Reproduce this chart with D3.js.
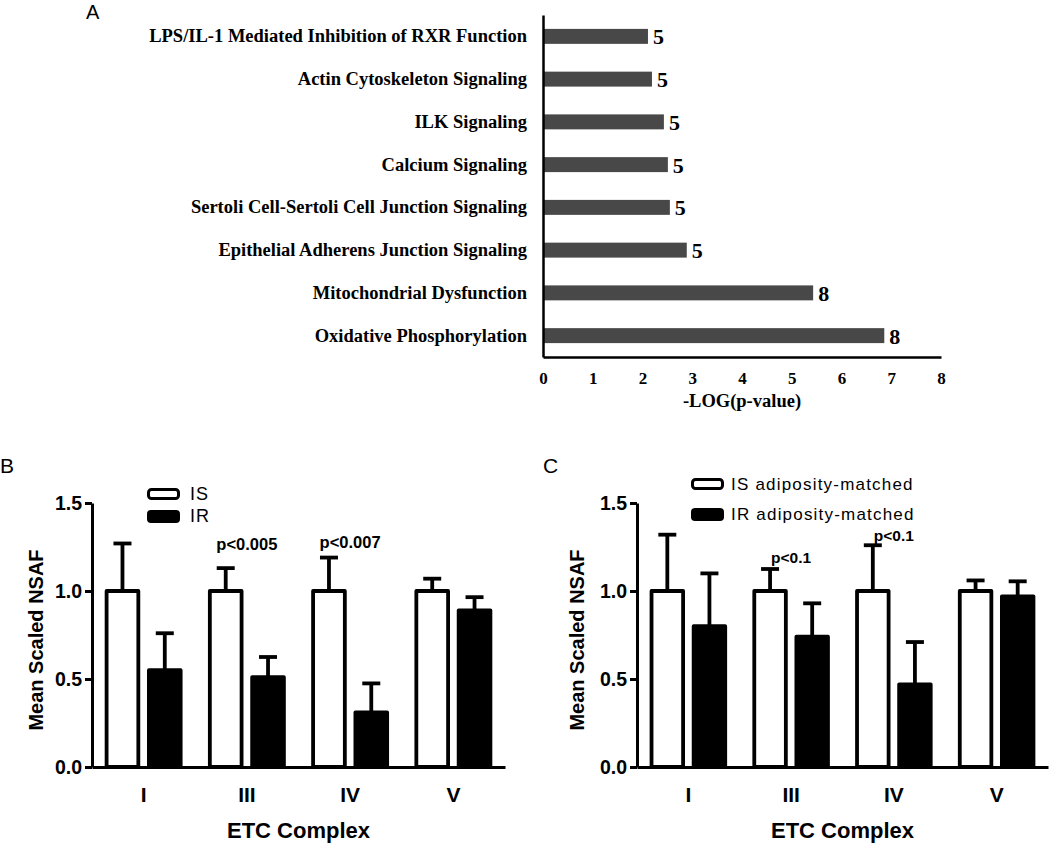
<!DOCTYPE html>
<html>
<head>
<meta charset="utf-8">
<script src="https://cdn.jsdelivr.net/npm/d3@7"></script>
<style>
  html, body { margin: 0; padding: 0; background: #fff; }
  svg { display: block; }
</style>
</head>
<body>
<svg id="chart" width="1050" height="843"></svg>
<script>
// ---------- Panel A data ----------
const pathways = [
  "LPS/IL-1 Mediated Inhibition of RXR Function",
  "Actin Cytoskeleton Signaling",
  "ILK Signaling",
  "Calcium Signaling",
  "Sertoli Cell-Sertoli Cell Junction Signaling",
  "Epithelial Adherens Junction Signaling",
  "Mitochondrial Dysfunction",
  "Oxidative Phosphorylation"
];
const negLogP = [2.11, 2.19, 2.43, 2.51, 2.55, 2.89, 5.43, 6.86];
const moleculeCounts = [5, 5, 5, 5, 5, 5, 8, 8];
const xTicksA = [0, 1, 2, 3, 4, 5, 6, 7, 8];

// ---------- Panels B & C data ----------
const complexes = ["I", "III", "IV", "V"];
const yTicksBC = [0, 0.5, 1.0, 1.5];

const groupsB = ["IS", "IR"];
const meanIS_B = [1.0, 1.0, 1.0, 1.0];
const upperIS_B = [1.27, 1.13, 1.19, 1.07];
const meanIR_B = [0.55, 0.51, 0.31, 0.89];
const upperIR_B = [0.76, 0.625, 0.475, 0.965];
const pCatsB = ["III", "IV"];
const pTextB = ["p<0.005", "p<0.007"];
const pAtB = [1.233, 1.244];

const groupsC = ["IS adiposity-matched", "IR adiposity-matched"];
const meanIS_C = [1.0, 1.0, 1.0, 1.0];
const upperIS_C = [1.32, 1.125, 1.26, 1.06];
const meanIR_C = [0.80, 0.74, 0.47, 0.97];
const upperIR_C = [1.10, 0.93, 0.71, 1.055];
const pCatsC = ["III", "IV"];
const pTextC = ["p<0.1", "p<0.1"];
const pAtC = [1.159, 1.285];

const svg = d3.select("#chart");
const SERIF = "'Liberation Serif', 'Times New Roman', serif";
const SANS = "'Liberation Sans', Arial, sans-serif";

// ================= Panel A =================
(function () {
  const g = svg.append("g");
  const x = d3.scaleLinear().domain([0, 8]).range([543, 941]);
  const y = d3.scaleBand().domain(pathways).range([15, 357])
    .paddingInner(0.65).paddingOuter(0.325);

  g.append("text").attr("x", 86).attr("y", 19)
    .style("font-family", SANS).style("font-size", "20px").text("A");

  // bars
  g.selectAll("rect.barA").data(pathways).join("rect")
    .attr("class", "barA")
    .attr("x", x(0))
    .attr("y", d => y(d))
    .attr("width", (d, i) => x(negLogP[i]) - x(0))
    .attr("height", y.bandwidth())
    .attr("fill", "#484848");

  // value labels
  g.selectAll("text.valA").data(pathways).join("text")
    .attr("class", "valA")
    .attr("x", (d, i) => x(negLogP[i]) + 5)
    .attr("y", d => y(d) + y.bandwidth() / 2)
    .attr("dy", "0.36em")
    .style("font-family", SERIF).style("font-weight", "bold").style("font-size", "22px")
    .text((d, i) => moleculeCounts[i]);

  // y axis
  const ya = g.append("g").attr("transform", `translate(${x(0)},0)`)
    .call(d3.axisLeft(y).tickSize(0).tickPadding(16));
  ya.select(".domain").attr("stroke", "#000").attr("stroke-width", 2.5);
  ya.selectAll("text").style("font-family", SERIF).style("font-weight", "bold")
    .style("font-size", "18.5px").attr("fill", "#000");

  // x axis
  const xa = g.append("g").attr("transform", "translate(0,357)")
    .call(d3.axisBottom(x).tickValues(xTicksA).tickSize(0).tickPadding(15).tickSizeOuter(0));
  xa.select(".domain").attr("stroke", "#000").attr("stroke-width", 2.5);
  xa.selectAll("text").style("font-family", SERIF).style("font-weight", "bold")
    .style("font-size", "17px").attr("fill", "#000");

  g.append("text").attr("x", (x.range()[0] + x.range()[1]) / 2).attr("y", 407)
    .attr("text-anchor", "middle")
    .style("font-family", SERIF).style("font-weight", "bold").style("font-size", "18.5px")
    .text("-LOG(p-value)");
})();

// ================= Panels B & C =================
function barPanel(opts) {
  const g = svg.append("g");
  const y = d3.scaleLinear().domain([0, 1.5]).range([767, 503]);
  const x0 = d3.scaleBand().domain(complexes).range([opts.axisX, opts.endX]);
  const x1 = d3.scaleBand().domain(opts.groups).range([0, x0.bandwidth()])
    .paddingInner(0.16).paddingOuter(0.3);
  const sw = 3.8;

  g.append("text").attr("x", opts.letterX).attr("y", 473)
    .style("font-family", SANS).style("font-size", "21px").text(opts.letter);

  const rows = complexes.map((c, i) => [
    { c, grp: opts.groups[0], mean: opts.meanIS[i], upper: opts.upperIS[i], fill: "#fff" },
    { c, grp: opts.groups[1], mean: opts.meanIR[i], upper: opts.upperIR[i], fill: "#000" }
  ]).flat();

  // error bars (upper only)
  const eb = g.selectAll("g.err").data(rows).join("g").attr("class", "err");
  eb.append("line")
    .attr("x1", d => x0(d.c) + x1(d.grp) + x1.bandwidth() / 2)
    .attr("x2", d => x0(d.c) + x1(d.grp) + x1.bandwidth() / 2)
    .attr("y1", d => y(d.mean)).attr("y2", d => y(d.upper))
    .attr("stroke", "#000").attr("stroke-width", sw);
  eb.append("line")
    .attr("x1", d => x0(d.c) + x1(d.grp) + x1.bandwidth() / 2 - 9)
    .attr("x2", d => x0(d.c) + x1(d.grp) + x1.bandwidth() / 2 + 9)
    .attr("y1", d => y(d.upper)).attr("y2", d => y(d.upper))
    .attr("stroke", "#000").attr("stroke-width", sw);

  // bars
  g.selectAll("rect.bar").data(rows).join("rect").attr("class", "bar")
    .attr("x", d => x0(d.c) + x1(d.grp) + sw / 2)
    .attr("y", d => y(d.mean))
    .attr("width", x1.bandwidth() - sw)
    .attr("height", d => y(0) - y(d.mean))
    .attr("fill", d => d.fill)
    .attr("stroke", "#000").attr("stroke-width", sw)
    .attr("stroke-linejoin", "round");

  // y axis
  const ya = g.append("g").attr("transform", `translate(${opts.axisX},0)`)
    .call(d3.axisLeft(y).tickValues(yTicksBC).tickFormat(d3.format(".1f"))
      .tickSize(7).tickPadding(3).tickSizeOuter(0));
  ya.select(".domain").attr("stroke", "#000").attr("stroke-width", 3);
  ya.selectAll(".tick line").attr("stroke", "#000").attr("stroke-width", 3);
  ya.selectAll("text").style("font-family", SANS).style("font-weight", "bold")
    .style("font-size", "19.5px").attr("fill", "#000");

  // x axis (baseline + category labels)
  const xa = g.append("g").attr("transform", "translate(0,767)")
    .call(d3.axisBottom(x0).tickSize(0).tickPadding(20).tickSizeOuter(0));
  xa.select(".domain").attr("stroke", "#000").attr("stroke-width", 3);
  xa.selectAll("text").style("font-family", SANS).style("font-weight", "bold")
    .style("font-size", "21px").attr("fill", "#000");

  // axis titles
  g.append("text")
    .attr("transform", `translate(${opts.yTitleX},${(y(0) + y(1.5)) / 2 + 5}) rotate(-90)`)
    .attr("text-anchor", "middle")
    .style("font-family", SANS).style("font-weight", "bold").style("font-size", "20px")
    .text("Mean Scaled NSAF");
  g.append("text")
    .attr("x", (opts.axisX + opts.endX) / 2).attr("y", 838)
    .attr("text-anchor", "middle")
    .style("font-family", SANS).style("font-weight", "bold").style("font-size", "22px")
    .text("ETC Complex");

  // p-value annotations
  g.selectAll("text.pval").data(opts.pCats).join("text").attr("class", "pval")
    .attr("x", d => x0(d) + x0.bandwidth() / 2)
    .attr("y", (d, i) => y(opts.pAt[i]))
    .attr("text-anchor", "middle")
    .style("font-family", SANS).style("font-weight", "bold").style("font-size", opts.pSize)
    .text((d, i) => opts.pText[i]);

  // legend
  const lg = g.append("g");
  opts.groups.forEach((name, i) => {
    const ly = opts.legendY[i];
    if (i === 0) {
      lg.append("rect").attr("x", opts.legendX + 1.5).attr("y", ly + 1.5)
        .attr("width", 30).attr("height", 9).attr("rx", 3)
        .attr("fill", "#fff").attr("stroke", "#000").attr("stroke-width", 3);
    } else {
      lg.append("rect").attr("x", opts.legendX).attr("y", ly)
        .attr("width", 33).attr("height", 13).attr("rx", 4).attr("fill", "#000");
    }
    lg.append("text").attr("x", opts.legendX + opts.legendTextDx).attr("y", ly + 6)
      .attr("dy", "0.33em")
      .style("font-family", SANS).style("font-size", opts.legendSize)
      .style("letter-spacing", opts.letterSpacing)
      .text(name);
  });
}

barPanel({
  letter: "B", letterX: 0, axisX: 92, endX: 505, yTitleX: 43,
  groups: groupsB, meanIS: meanIS_B, upperIS: upperIS_B, meanIR: meanIR_B, upperIR: upperIR_B,
  pCats: pCatsB, pText: pTextB, pAt: pAtB, pSize: "16.5px",
  legendX: 147, legendY: [488, 510], legendTextDx: 43, letterSpacing: "1px", legendSize: "18px"
});

barPanel({
  letter: "C", letterX: 543, axisX: 637, endX: 1048, yTitleX: 584,
  groups: groupsC, meanIS: meanIS_C, upperIS: upperIS_C, meanIR: meanIR_C, upperIR: upperIR_C,
  pCats: pCatsC, pText: pTextC, pAt: pAtC, pSize: "15.5px",
  legendX: 691, legendY: [478, 508], legendTextDx: 40, letterSpacing: "1.2px", legendSize: "17px"
});
</script>
</body>
</html>
